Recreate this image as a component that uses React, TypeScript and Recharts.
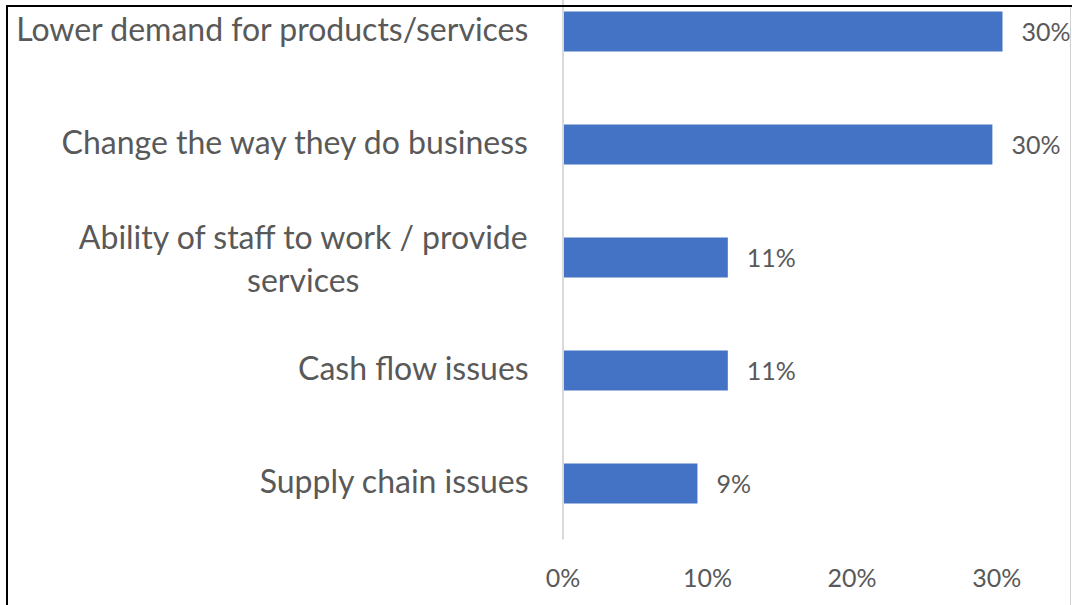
import { BarChart, Bar, XAxis, YAxis, LabelList } from "recharts";

// survey shares (%) per impact category, top to bottom
const categories = [
  "Lower demand for products/services",
  "Change the way they do business",
  "Ability of staff to work / provide services",
  "Cash flow issues",
  "Supply chain issues",
];
const shares = [30.4, 29.7, 11.4, 11.4, 9.3];
const xTicks = [0, 10, 20, 30];

const data = categories.map((name, i) => ({ name, share: shares[i] }));

const FONT = "Lato, 'Open Sans', sans-serif";
const TEXT = "#595959";
const BAR = "#4472C4";
const CAT_SIZE = 32;
const NUM_SIZE = 25;
const LINE_H = 43;
const WRAP_W = 520;

let ctx: CanvasRenderingContext2D | null = null;
const measure = (s: string) => {
  if (!ctx) ctx = document.createElement("canvas").getContext("2d");
  ctx!.font = `${CAT_SIZE}px Lato`;
  return ctx!.measureText(s).width;
};

// wrap long category names the way the spreadsheet does
const wrap = (s: string) => {
  const lines: string[] = [];
  let cur = "";
  for (const w of s.split(" ")) {
    const next = cur ? cur + " " + w : w;
    if (cur && measure(next) > WRAP_W) {
      lines.push(cur);
      cur = w;
    } else cur = next;
  }
  lines.push(cur);
  return lines;
};

const CategoryTick = ({ x, y, payload }: any) => {
  const lines = wrap(payload.value);
  const block = Math.max(...lines.map(measure));
  const first = lines.length > 1 ? -8 : 10;
  return (
    <text fill={TEXT} fontFamily={FONT} fontSize={CAT_SIZE}>
      {lines.map((l, i) => (
        <tspan
          key={i}
          x={x - block / 2}
          y={y + first + i * LINE_H}
          textAnchor="middle"
        >
          {l}
        </tspan>
      ))}
    </text>
  );
};

const ValueLabel = ({ x, y, width, height, value }: any) => (
  <text
    x={x + width + 19}
    y={y + height / 2 + 9}
    fill={TEXT}
    fontFamily={FONT}
    fontSize={NUM_SIZE}
  >
    {`${Math.round(value)}%`}
  </text>
);

export default function App() {
  return (
    <div
      style={{
        position: "fixed",
        top: 0,
        left: 0,
        width: 1072,
        height: 605,
        overflow: "hidden",
        background: "#fff",
      }}
    >
      <div style={{ position: "absolute", top: -40, left: 0 }}>
        <BarChart
          width={1072}
          height={645}
          data={data}
          layout="vertical"
          margin={{ top: 14.5, right: 3, bottom: 0, left: 0 }}
        >
          <XAxis
            type="number"
            domain={[0, 35]}
            ticks={xTicks}
            tickFormatter={(v) => `${v}%`}
            axisLine={false}
            tickLine={false}
            tickSize={0}
            tickMargin={30}
            height={65.5}
            tick={{ fill: TEXT, fontSize: NUM_SIZE, fontFamily: FONT }}
          />
          <YAxis
            type="category"
            dataKey="name"
            width={563}
            interval={0}
            axisLine={{ stroke: "#D9D9D9", strokeWidth: 2 }}
            tickLine={false}
            tickSize={0}
            tickMargin={34}
            tick={<CategoryTick />}
          />
          <Bar dataKey="share" fill={BAR} barSize={40} isAnimationActive={false}>
            <LabelList dataKey="share" content={<ValueLabel />} />
          </Bar>
        </BarChart>
      </div>
      {/* frame edges */}
      <div style={{ position: "absolute", top: 5, left: 6, width: 1066, height: 2, background: "#000" }} />
      <div style={{ position: "absolute", top: 5, left: 6, width: 2, height: 600, background: "#000" }} />
      <div style={{ position: "absolute", top: 7, left: 1070, width: 1, height: 598, background: "#D0D0D0" }} />
    </div>
  );
}
